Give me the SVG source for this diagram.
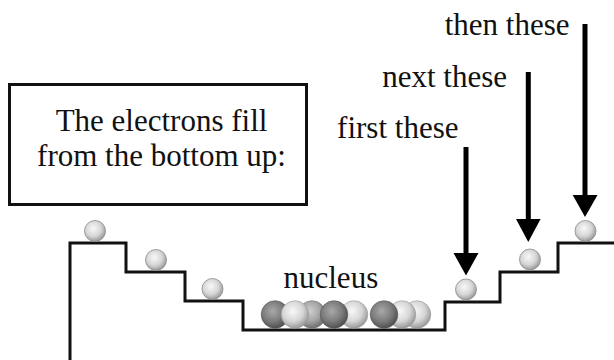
<svg xmlns="http://www.w3.org/2000/svg" width="614" height="360" viewBox="0 0 614 360">
  <defs>
    <radialGradient id="gLight" cx="0.42" cy="0.38" r="0.62">
      <stop offset="0" stop-color="#f8f8f8"/>
      <stop offset="0.6" stop-color="#d6d6d6"/>
      <stop offset="1" stop-color="#9a9a9a"/>
    </radialGradient>
    <radialGradient id="gMid" cx="0.42" cy="0.38" r="0.62">
      <stop offset="0" stop-color="#cfcfcf"/>
      <stop offset="0.6" stop-color="#a4a4a4"/>
      <stop offset="1" stop-color="#6e6e6e"/>
    </radialGradient>
    <radialGradient id="gDark" cx="0.42" cy="0.38" r="0.62">
      <stop offset="0" stop-color="#a8a8a8"/>
      <stop offset="0.6" stop-color="#7c7c7c"/>
      <stop offset="1" stop-color="#505050"/>
    </radialGradient>
  </defs>
  <style>
    .txt { font-family: "Liberation Serif", "Times New Roman", serif; font-size: 31px; fill: #111; }
    .stair { fill: none; stroke: #111; stroke-width: 3; stroke-linejoin: miter; }
    .box { fill: #fff; stroke: #111; stroke-width: 3; }
    .shaft { stroke: #000; stroke-width: 5; }
    .head { fill: #000; }
    .e { fill: url(#gLight); stroke: #8a8a8a; stroke-width: 0.8; }
    .nl { fill: url(#gLight); stroke: #9a9a9a; stroke-width: 0.6; }
    .nm { fill: url(#gMid); stroke: #777; stroke-width: 0.6; }
    .nd { fill: url(#gDark); stroke: #555; stroke-width: 0.6; }
  </style>

  <!-- caption box -->
  <g id="caption">
    <rect class="box" x="9.5" y="84.5" width="297" height="120"/>
    <text class="txt" x="161.5" y="131" text-anchor="middle">The electrons fill</text>
    <text class="txt" x="161.5" y="166" text-anchor="middle">from the bottom up:</text>
  </g>

  <!-- energy staircase -->
  <g id="stairs">
    <path class="stair" d="M70,360 V243 H126 V272 H185 V301 H243 V330 H445 V302 H500 V272 H558 V243 H614"/>
  </g>

  <!-- nucleus -->
  <g id="nucleus">
    <text class="txt" x="283.5" y="288">nucleus</text>
    <circle class="nd" cx="275" cy="314.5" r="13.8"/>
    <circle class="nm" cx="312" cy="314.5" r="13.8"/>
    <circle class="nl" cx="295" cy="314.5" r="13.8"/>
    <circle class="nl" cx="354" cy="314.5" r="13.8"/>
    <circle class="nd" cx="334" cy="314.5" r="13.8"/>
    <circle class="nl" cx="417" cy="314.5" r="13.8"/>
    <circle class="nl" cx="402" cy="314.5" r="13.8"/>
    <circle class="nd" cx="384" cy="314.5" r="13.8"/>
  </g>

  <!-- electrons -->
  <g id="electrons">
    <circle class="e" cx="95" cy="231" r="10.5"/>
    <circle class="e" cx="156" cy="260" r="10.5"/>
    <circle class="e" cx="212.5" cy="289" r="10.5"/>
    <circle class="e" cx="466" cy="289.5" r="10.5"/>
    <circle class="e" cx="530" cy="259.5" r="10.5"/>
    <circle class="e" cx="585.5" cy="231" r="10.5"/>
  </g>

  <!-- labels -->
  <g id="label-first"><text class="txt" x="458.5" y="138" text-anchor="end">first these</text></g>
  <g id="label-next"><text class="txt" x="507" y="87" text-anchor="end">next these</text></g>
  <g id="label-then"><text class="txt" x="569.5" y="35" text-anchor="end">then these</text></g>

  <!-- arrows -->
  <g id="connectors">
    <line class="shaft" x1="466" y1="147" x2="466" y2="256"/>
    <polygon class="head" points="453.5,253 478.5,253 466,275.5"/>
    <line class="shaft" x1="528.3" y1="72" x2="528.3" y2="222"/>
    <polygon class="head" points="516,219 540.6,219 528.3,242"/>
    <line class="shaft" x1="585" y1="24" x2="585" y2="198"/>
    <polygon class="head" points="572.7,195 597.5,195 585,217"/>
  </g>
</svg>
